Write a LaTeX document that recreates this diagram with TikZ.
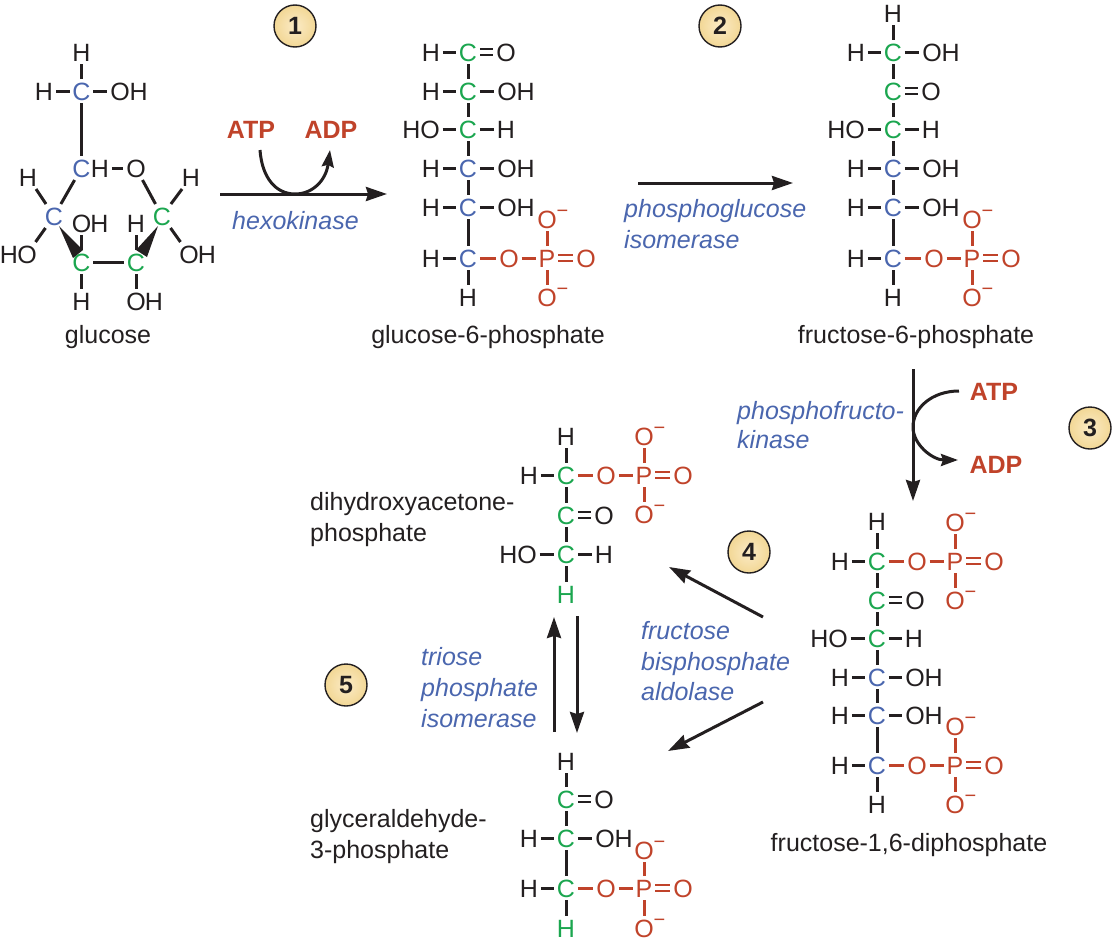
\documentclass[tikz,border=0pt]{standalone}
\usepackage{fontspec}
\setmainfont{Liberation Sans}
\usetikzlibrary{arrows.meta,shadings}
\definecolor{cb}{HTML}{4A66AE}
\definecolor{cg}{HTML}{1BA64F}
\definecolor{cr}{HTML}{C0432A}
\definecolor{ck}{HTML}{231F20}
\definecolor{bdg}{HTML}{F2D795}
\definecolor{bdgl}{HTML}{FBEBC6}
\newcommand{\Om}{O\rlap{\raisebox{10.5pt}{\fontsize{20}{20}\selectfont −}}}
\tikzset{
  atom/.style={inner xsep=2.6pt,inner ysep=2.8pt,text height=18pt,text depth=0pt,font=\fontsize{25}{25}\selectfont,text=ck},
  bond/.style={line width=3pt,draw=ck},
  rbond/.style={line width=3pt,draw=cr},
  dbl/.style={draw=ck,double,double distance=3.4pt,line width=2.4pt},
  rdbl/.style={draw=cr,double,double distance=3.4pt,line width=2.4pt},
  rxn/.style={line width=3pt,draw=ck,-{Stealth[length=21pt,width=14pt,inset=2pt]}},
  side/.style={line width=3pt,draw=ck},
  lbl/.style={inner sep=0pt,anchor=base,font=\fontsize{25}{25}\selectfont,text=ck},
  enz/.style={inner sep=0pt,anchor=base west,font=\fontsize{25}{25}\selectfont\itshape,text=cb},
  nuc/.style={inner sep=0pt,font=\fontsize{25}{25}\selectfont\bfseries,text=cr},
  badge/.style={circle,draw=ck,line width=1.4pt,minimum size=42pt,inner sep=0pt,inner color=bdgl,outer color=bdg,font=\fontsize{25}{25}\selectfont\bfseries,text=ck}
}
\newcommand{\atoms}[1]{\foreach \n/\x/\y/\c/\t in {#1}{\node[atom,text=\c] (\n) at (\x,\y) {\t};}}
\newcommand{\bonds}[2][bond]{\foreach \a/\b in {#2}{\draw[#1] (\a) -- (\b);}}
\begin{document}
\begin{tikzpicture}[x=1pt,y=-1pt]
\useasboundingbox (0,0) rectangle (1112,945);
% glucose
\atoms{a1/81.5/52/ck/H,a2/81.5/91/cb/C,a3/44/91/ck/H,a4/129/91/ck/OH,
 a5/81.5/168/cb/C,a6/100/168/ck/H,a7/136/168/ck/O,a8/54/216/cb/C,a9/28/177/ck/H,a10/27/254/ck/O,a10h/9/254/ck/H,
 a11/81.5/262/cg/C,a12/81.5/223/ck/O,a12h/99.5/223/ck/H,a13/162/216/cg/C,a14/191/177/ck/H,a15/189/254/ck/O,a15h/207/254/ck/H,
 a16/136/262/cg/C,a17/136/223/ck/H,a18/81.5/301/ck/H,a19/136/301/ck/O,a19h/154/301/ck/H}
\bonds{a2/a1,a2/a3,a2/a4,a2/a5,a6/a7,a5/a8,a8/a9,a8/a10,a7/a13,a13/a14,a13/a15,a11/a16,a11/a12,a16/a17,a11/a18,a16/a19}
\fill[ck] (59,226) -- (73,258) -- (83,250) -- cycle;
\fill[ck] (158,226) -- (136,250) -- (147,257) -- cycle;
\node[lbl] (t1) at (108,343) {glucose};
% glucose-6-phosphate
\atoms{b1/468/52/cg/C,b2/468/91/cg/C,b3/468/129/cg/C,b4/468/168/cb/C,b5/468/207/cb/C,b6/468/258/cb/C,b7/468/297/ck/H,
 b1l/431/52/ck/H,b2l/431/91/ck/H,b3l/421/129/ck/HO,b4l/431/168/ck/H,b5l/431/207/ck/H,b6l/431/258/ck/H,
 b1r/506/52/ck/O,b2r/516/91/ck/OH,b3r/506/129/ck/H,b4r/516/168/ck/OH,b5r/516/207/ck/OH,
 b8/509/258/cr/O,b9/547/258/cr/P,b10/586/258/cr/O,b11/547/219/cr/\Om,b12/547/297/cr/\Om}
\bonds{b1/b2,b2/b3,b3/b4,b4/b5,b5/b6,b6/b7,b1l/b1,b2l/b2,b3l/b3,b4l/b4,b5l/b5,b6l/b6,b2/b2r,b3/b3r,b4/b4r,b5/b5r}
\bonds[dbl]{b1/b1r}
\bonds[rbond]{b6/b8,b8/b9,b9/b11,b9/b12}
\bonds[rdbl]{b9/b10}
\node[lbl] (t2) at (488,343) {glucose-6-phosphate};
% fructose-6-phosphate
\atoms{c0/893/13/ck/H,c1/893/52/cg/C,c2/893/91/cg/C,c3/893/129/cg/C,c4/893/168/cb/C,c5/893/207/cb/C,c6/893/258/cb/C,c7/893/297/ck/H,
 c1l/856/52/ck/H,c3l/846/129/ck/HO,c4l/856/168/ck/H,c5l/856/207/ck/H,c6l/856/258/ck/H,
 c1r/941/52/ck/OH,c2r/931/91/ck/O,c3r/931/129/ck/H,c4r/941/168/ck/OH,c5r/941/207/ck/OH,
 c8/934/258/cr/O,c9/972/258/cr/P,c10/1011/258/cr/O,c11/972/219/cr/\Om,c12/972/297/cr/\Om}
\bonds{c0/c1,c1/c2,c2/c3,c3/c4,c4/c5,c5/c6,c6/c7,c1l/c1,c3l/c3,c4l/c4,c5l/c5,c6l/c6,c1/c1r,c3/c3r,c4/c4r,c5/c5r}
\bonds[dbl]{c2/c2r}
\bonds[rbond]{c6/c8,c8/c9,c9/c11,c9/c12}
\bonds[rdbl]{c9/c10}
\node[lbl] (t3) at (916,343) {fructose-6-phosphate};
% fructose-1,6-diphosphate
\atoms{d0/877/521/ck/H,d1/877/561/cg/C,d2/877/600/cg/C,d3/877/638/cg/C,d4/877/677/cb/C,d5/877/715/cb/C,d6/877/765/cb/C,d7/877/804/ck/H,
 d1l/840/561/ck/H,d3l/829/638/ck/HO,d4l/840/677/ck/H,d5l/840/715/ck/H,d6l/840/765/ck/H,
 d2r/915/600/ck/O,d3r/914/638/ck/H,d4r/924/677/ck/OH,d5r/924/715/ck/OH,
 d8/917/561/cr/O,d9/955/561/cr/P,d10/994/561/cr/O,d11/955/522/cr/\Om,d12/955/600/cr/\Om,
 d13/917/765/cr/O,d14/955/765/cr/P,d15/994/765/cr/O,d16/955/726/cr/\Om,d17/955/804/cr/\Om}
\bonds{d0/d1,d1/d2,d2/d3,d3/d4,d4/d5,d5/d6,d6/d7,d1l/d1,d3l/d3,d4l/d4,d5l/d5,d6l/d6,d3/d3r,d4/d4r,d5/d5r}
\bonds[dbl]{d2/d2r}
\bonds[rbond]{d1/d8,d8/d9,d9/d11,d9/d12,d6/d13,d13/d14,d14/d16,d14/d17}
\bonds[rdbl]{d9/d10,d14/d15}
\node[lbl] (t4) at (909,851) {fructose-1,6-diphosphate};
% DHAP
\atoms{e0/566/436/ck/H,e1/566/475/cg/C,e2/566/515/cg/C,e3/566/554/cg/C,e4/566/594/cg/H,
 e1l/529/475/ck/H,e3l/518/554/ck/HO,e2r/604/515/ck/O,e3r/604/554/ck/H,
 e8/606/475/cr/O,e9/644/475/cr/P,e10/683/475/cr/O,e11/644/436/cr/\Om,e12/644/514/cr/\Om}
\bonds{e0/e1,e1/e2,e2/e3,e3/e4,e1l/e1,e3l/e3,e3/e3r}
\bonds[dbl]{e2/e2r}
\bonds[rbond]{e1/e8,e8/e9,e9/e11,e9/e12}
\bonds[rdbl]{e9/e10}
\node[lbl,anchor=base west] (t5a) at (310,510) {dihydroxyacetone-};
\node[lbl,anchor=base west] (t5b) at (310,541) {phosphate};
% G3P
\atoms{f0/566/761/ck/H,f1/566/799/cg/C,f2/566/838/cg/C,f3/566/888/cg/C,f4/566/928/cg/H,
 f1r/604/799/ck/O,f2l/529/838/ck/H,f2r/614/838/ck/OH,f3l/529/888/ck/H,
 f8/606/888/cr/O,f9/644/888/cr/P,f10/683/888/cr/O,f11/644/850/cr/\Om,f12/644/928/cr/\Om}
\bonds{f0/f1,f1/f2,f2/f3,f3/f4,f2l/f2,f2/f2r,f3l/f3}
\bonds[dbl]{f1/f1r}
\bonds[rbond]{f3/f8,f8/f9,f9/f11,f9/f12}
\bonds[rdbl]{f9/f10}
\node[lbl,anchor=base west] (t6a) at (310,827) {glyceraldehyde-};
\node[lbl,anchor=base west] (t6b) at (310,858) {3-phosphate};
% step 1
\node[badge] (s1) at (295,26) {1};
\coordinate (r1a) at (220,194); \coordinate (r1b) at (387,194);
\draw[rxn] (r1a) -- (r1b);
\node[nuc] (atp1) at (251,130) {ATP};
\node[nuc] (adp1) at (331,130) {ADP};
\coordinate (c1s) at (260,150); \coordinate (c1m) at (295,194); \coordinate (c1e) at (330,150);
\draw[side,-{Stealth[length=17pt,width=12pt,inset=2pt]}] (c1s) .. controls (262,178) and (276,194) .. (c1m) .. controls (313,194) and (326,180) .. (c1e);
\node[enz] (e1n) at (232,229) {hexokinase};
% step 2
\node[badge] (s2) at (720,26) {2};
\coordinate (r2a) at (638,183); \coordinate (r2b) at (793,183);
\draw[rxn] (r2a) -- (r2b);
\node[enz] (e2a) at (624,217) {phosphoglucose};
\node[enz] (e2b) at (624,248) {isomerase};
% step 3
\node[badge] (s3) at (1090,428) {3};
\coordinate (r3a) at (913,369); \coordinate (r3b) at (913,501);
\draw[rxn] (r3a) -- (r3b);
\node[nuc] (atp3) at (994,392) {ATP};
\node[nuc] (adp3) at (996,465) {ADP};
\coordinate (c3s) at (959,391); \coordinate (c3m) at (913,427); \coordinate (c3e) at (958,460);
\draw[side,-{Stealth[length=17pt,width=12pt,inset=2pt]}] (c3s) .. controls (932,391) and (913,408) .. (c3m) .. controls (913,445) and (933,460) .. (c3e);
\node[enz] (e3a) at (737,419) {phosphofructo-};
\node[enz] (e3b) at (737,448) {kinase};
% step 4
\node[badge] (s4) at (749,552) {4};
\coordinate (r4a) at (763,617); \coordinate (r4b) at (669,567);
\coordinate (r4c) at (763,702); \coordinate (r4d) at (668,751);
\draw[rxn] (r4a) -- (r4b);
\draw[rxn] (r4c) -- (r4d);
\node[enz] (e4a) at (641,639) {fructose};
\node[enz] (e4b) at (641,670) {bisphosphate};
\node[enz] (e4c) at (641,700) {aldolase};
% step 5
\node[badge] (s5) at (346,685) {5};
\coordinate (r5a) at (554,732); \coordinate (r5b) at (554,617);
\coordinate (r5c) at (577,616); \coordinate (r5d) at (577,733);
\draw[rxn] (r5a) -- (r5b);
\draw[rxn] (r5c) -- (r5d);
\node[enz] (e5a) at (421,665) {triose};
\node[enz] (e5b) at (421,696) {phosphate};
\node[enz] (e5c) at (421,727) {isomerase};
\end{tikzpicture}
\end{document}
